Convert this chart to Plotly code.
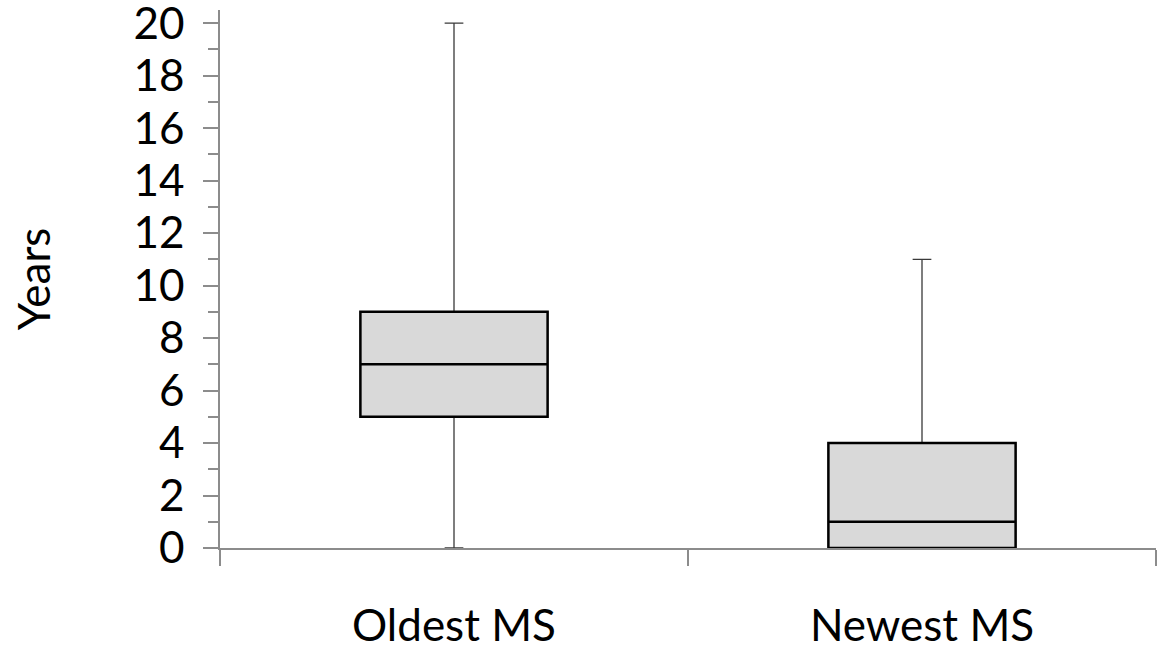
import plotly.graph_objects as go

categories = ["Oldest MS", "Newest MS"]
minimum = [0, 0]
q1 = [5, 0]
median = [7, 1]
q3 = [9, 4]
maximum = [20, 11]

FONT = "Lato"
FS = 44
AXIS_COLOR = "#8c8c8c"

fig = go.Figure()

# thin whiskers
fig.add_trace(go.Box(
    x=categories, q1=q1, median=median, q3=q3,
    lowerfence=minimum, upperfence=maximum,
    width=0.4, whiskerwidth=0.1,
    line=dict(color="#3a3a3a", width=1.3),
    fillcolor="rgba(0,0,0,0)",
    hoverinfo="skip", showlegend=False,
))
# thick box on top
fig.add_trace(go.Box(
    x=categories, q1=q1, median=median, q3=q3,
    lowerfence=q1, upperfence=q3,
    width=0.4, whiskerwidth=0,
    line=dict(color="#000000", width=2.5),
    fillcolor="#d9d9d9",
    hoverinfo="skip", showlegend=False,
))

fig.update_layout(
    width=1157, height=650,
    margin=dict(l=220, r=1, t=10, b=102, autoexpand=False),
    paper_bgcolor="white", plot_bgcolor="white",
    boxmode="overlay",
    font=dict(family=FONT, size=FS, color="#000000"),
    showlegend=False,
)

fig.update_xaxes(
    type="category", range=[-0.5, 1.5],
    showline=True, linecolor=AXIS_COLOR, linewidth=1.5,
    ticks="outside", tickson="boundaries", ticklen=16,
    tickcolor=AXIS_COLOR, tickwidth=1.5,
    showgrid=False, zeroline=False,
    ticklabelstandoff=38,
    ticklabeloverflow="allow",
    tickfont=dict(family=FONT, size=FS, color="#000000"),
    automargin=False,
)

fig.update_yaxes(
    range=[0, 20.5],
    tickmode="linear", tick0=0, dtick=2,
    showline=True, linecolor=AXIS_COLOR, linewidth=1.5,
    ticks="outside", ticklen=15, tickcolor=AXIS_COLOR, tickwidth=1.5,
    minor=dict(ticks="outside", ticklen=10, dtick=1, tick0=0,
               tickcolor=AXIS_COLOR, tickwidth=1.5, showgrid=False),
    showgrid=False, zeroline=False,
    ticklabelstandoff=10,
    ticklabeloverflow="allow",
    tickfont=dict(family=FONT, size=FS, color="#000000"),
    title=dict(text="Years", font=dict(family=FONT, size=FS, color="#000000"), standoff=69),
    automargin=False,
)

fig.write_html("out.html", config={"displayModeBar": False},
               post_script="document.body.style.margin='0';")
